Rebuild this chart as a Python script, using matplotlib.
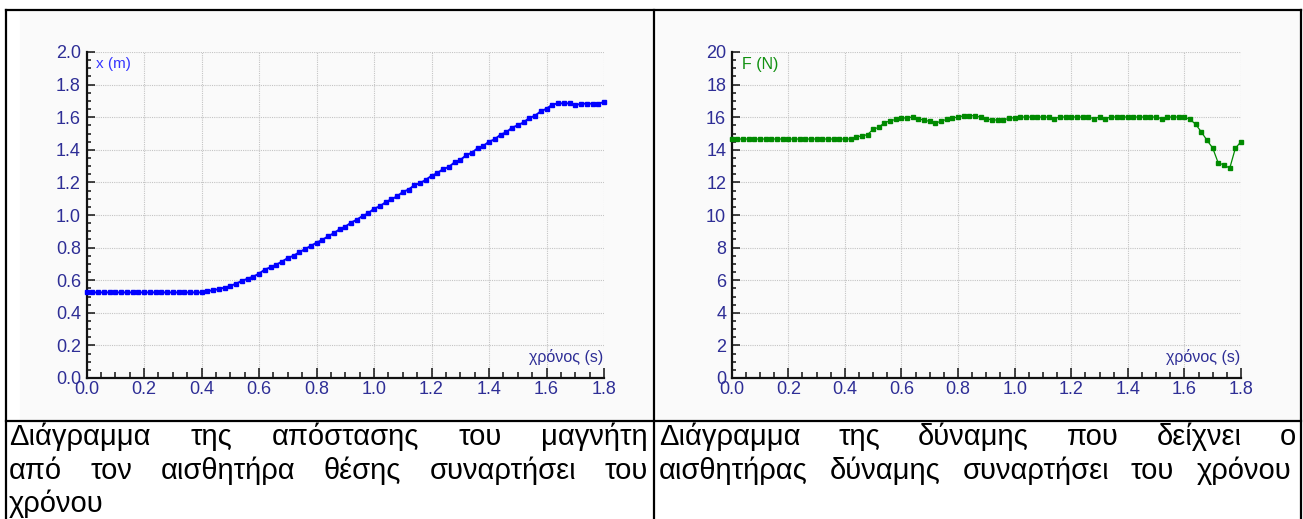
import numpy as np
import matplotlib.pyplot as plt
from matplotlib.lines import Line2D
from matplotlib.patches import Rectangle
from matplotlib.ticker import MultipleLocator

# DATA
t = [0.00, 0.02, 0.04, 0.06, 0.08, 0.10, 0.12, 0.14, 0.16, 0.18,
     0.20, 0.22, 0.24, 0.26, 0.28, 0.30, 0.32, 0.34, 0.36, 0.38,
     0.40, 0.42, 0.44, 0.46, 0.48, 0.50, 0.52, 0.54, 0.56, 0.58,
     0.60, 0.62, 0.64, 0.66, 0.68, 0.70, 0.72, 0.74, 0.76, 0.78,
     0.80, 0.82, 0.84, 0.86, 0.88, 0.90, 0.92, 0.94, 0.96, 0.98,
     1.00, 1.02, 1.04, 1.06, 1.08, 1.10, 1.12, 1.14, 1.16, 1.18,
     1.20, 1.22, 1.24, 1.26, 1.28, 1.30, 1.32, 1.34, 1.36, 1.38,
     1.40, 1.42, 1.44, 1.46, 1.48, 1.50, 1.52, 1.54, 1.56, 1.58,
     1.60, 1.62, 1.64, 1.66, 1.68, 1.70, 1.72, 1.74, 1.76, 1.78,
     1.80]

x_pos = [0.525, 0.525, 0.525, 0.525, 0.525, 0.525, 0.525, 0.525, 0.525, 0.525,
         0.525, 0.525, 0.525, 0.525, 0.525, 0.525, 0.525, 0.525, 0.525, 0.525,
         0.525, 0.533, 0.538, 0.546, 0.554, 0.564, 0.579, 0.595, 0.609, 0.622,
         0.640, 0.665, 0.679, 0.695, 0.714, 0.736, 0.750, 0.771, 0.791, 0.810,
         0.830, 0.847, 0.869, 0.888, 0.912, 0.928, 0.953, 0.971, 0.994, 1.010,
         1.039, 1.053, 1.078, 1.096, 1.114, 1.141, 1.156, 1.182, 1.196, 1.215,
         1.241, 1.256, 1.282, 1.294, 1.323, 1.337, 1.366, 1.382, 1.409, 1.423,
         1.450, 1.464, 1.493, 1.507, 1.536, 1.550, 1.568, 1.595, 1.609, 1.636,
         1.652, 1.677, 1.685, 1.685, 1.685, 1.673, 1.683, 1.683, 1.683, 1.683,
         1.693]

force = [14.66, 14.66, 14.66, 14.66, 14.66, 14.66, 14.66, 14.66, 14.66, 14.66,
         14.66, 14.66, 14.66, 14.66, 14.66, 14.66, 14.66, 14.66, 14.66, 14.66,
         14.66, 14.66, 14.79, 14.85, 14.93, 15.26, 15.38, 15.67, 15.77, 15.87,
         15.93, 15.97, 16.01, 15.91, 15.81, 15.75, 15.64, 15.75, 15.87, 15.95,
         16.01, 16.09, 16.09, 16.09, 15.99, 15.91, 15.83, 15.83, 15.83, 15.93,
         15.97, 16.01, 16.01, 16.01, 16.01, 16.01, 16.01, 15.91, 16.01, 16.01,
         16.01, 16.01, 16.01, 16.01, 15.91, 16.01, 15.91, 16.01, 16.01, 16.01,
         16.01, 16.01, 16.01, 16.01, 16.01, 16.01, 15.91, 16.01, 16.01, 16.01,
         16.01, 15.87, 15.56, 15.09, 14.58, 14.11, 13.17, 13.09, 12.86, 14.09,
         14.50]

x_ticks = [0.0, 0.2, 0.4, 0.6, 0.8, 1.0, 1.2, 1.4, 1.6, 1.8]
x_tick_labels = ['0.0', '0.2', '0.4', '0.6', '0.8', '1.0', '1.2', '1.4', '1.6', '1.8']
y1_ticks = [0.0, 0.2, 0.4, 0.6, 0.8, 1.0, 1.2, 1.4, 1.6, 1.8, 2.0]
y1_tick_labels = ['0.0', '0.2', '0.4', '0.6', '0.8', '1.0', '1.2', '1.4', '1.6', '1.8', '2.0']
y2_ticks = [0, 2, 4, 6, 8, 10, 12, 14, 16, 18, 20]
y2_tick_labels = ['0', '2', '4', '6', '8', '10', '12', '14', '16', '18', '20']

caption_left = ["Διάγραμμα της απόστασης του μαγνήτη",
                "από τον αισθητήρα θέσης συναρτήσει του",
                "χρόνου"]
caption_right = ["Διάγραμμα της δύναμης που δείχνει ο",
                 "αισθητήρας δύναμης συναρτήσει του χρόνου"]

# FIGURE
W, H = 1303, 519
fig = plt.figure(figsize=(W / 100, H / 100), dpi=100)
fig.patch.set_facecolor('white')

NARROW = ['Liberation Sans Narrow', 'Liberation Sans', 'DejaVu Sans']
NAVY = '#2e2e96'
BG = '#fafafa'


def fx(px):
    return px / W


def fy(py):
    return 1 - py / H


# light grey background of the two screenshots
fig.add_artist(Rectangle((fx(20), fy(419)), fx(632), (419 - 12) / H,
                         transform=fig.transFigure, color=BG, zorder=-2))
fig.add_artist(Rectangle((fx(657), fy(419)), fx(642), (419 - 12) / H,
                         transform=fig.transFigure, color=BG, zorder=-2))


def style_axes(ax, ymax, yminor, yticks, ylabels):
    ax.set_facecolor(BG)
    ax.set_xlim(0, 1.8)
    ax.set_ylim(0, ymax)
    ax.set_xticks(x_ticks)
    ax.set_xticklabels(x_tick_labels)
    ax.set_yticks(yticks)
    ax.set_yticklabels(ylabels)
    ax.xaxis.set_minor_locator(MultipleLocator(0.05))
    ax.yaxis.set_minor_locator(MultipleLocator(yminor))
    for s in ['top', 'right']:
        ax.spines[s].set_visible(False)
    for s in ['left', 'bottom']:
        ax.spines[s].set_linewidth(1.6)
        ax.spines[s].set_color('#111111')
    ax.tick_params(axis='x', which='major', direction='in', length=7, width=1.1,
                   color='#111111', pad=2)
    ax.tick_params(axis='x', which='minor', direction='in', length=4.3, width=1.1,
                   color='#111111')
    ax.tick_params(axis='y', which='major', direction='in', length=5.8, width=1.1,
                   color='#111111', pad=4)
    ax.tick_params(axis='y', which='minor', direction='in', length=2.9, width=1.1,
                   color='#111111')
    for lab in ax.get_xticklabels() + ax.get_yticklabels():
        lab.set_family(NARROW)
        lab.set_fontsize(13)
        lab.set_color(NAVY)
    ax.grid(True, which='major', color='#c4c4c4', linestyle=(0, (1, 1)), linewidth=0.8)
    ax.set_axisbelow(True)
    ax.text(0.998, 0.04, 'χρόνος (s)', transform=ax.transAxes, ha='right', va='bottom',
            family=NARROW, fontsize=11.5, color=NAVY)


ax1 = fig.add_axes([fx(86.5), fy(378), (604 - 86.5) / W, (378 - 52) / H])
style_axes(ax1, 2.0, 0.05, y1_ticks, y1_tick_labels)
ax1.plot(t, x_pos, color='#0000ff', linewidth=1.4, marker='s', markersize=2.8,
         clip_on=False, zorder=3)
ax1.text(0.018, 0.985, 'x (m)', transform=ax1.transAxes, ha='left', va='top',
         family=NARROW, fontsize=11, color='#3535ff')

ax2 = fig.add_axes([fx(731.7), fy(378), (1241 - 731.7) / W, (378 - 52) / H])
style_axes(ax2, 20, 0.5, y2_ticks, y2_tick_labels)
ax2.plot(t, force, color='#008a00', linewidth=0.9, marker='s', markersize=2.5,
         clip_on=False, zorder=3)
ax2.text(0.02, 0.985, 'F (N)', transform=ax2.transAxes, ha='left', va='top',
         family=NARROW, fontsize=11.5, color='#109010')

# TABLE BORDERS
for (x0, y0, x1, y1) in [(5.5, 10, 1301, 10), (5.5, 10, 5.5, 519), (654, 10, 654, 519),
                         (1301, 10, 1301, 519), (5.5, 420.5, 1301, 420.5)]:
    fig.add_artist(Line2D([fx(x0), fx(x1)], [fy(y0), fy(y1)], transform=fig.transFigure,
                          color='black', linewidth=1.6, solid_capstyle='projecting'))

# CAPTIONS (justified like the word document)
renderer = fig.canvas.get_renderer()


def caption_line(text, x0, x1, base, justify=True):
    words = text.split(' ')
    objs = [fig.text(fx(x0), fy(base), w, family='Liberation Sans', fontsize=21,
                     color='black', va='baseline', ha='left') for w in words]
    if not justify or len(objs) == 1:
        return
    widths = [o.get_window_extent(renderer).width for o in objs]
    gap = (x1 - x0 - sum(widths)) / (len(objs) - 1)
    xp = x0
    for o, w in zip(objs, widths):
        o.set_x(fx(xp))
        xp += w + gap


caption_line(caption_left[0], 9, 648, 445)
caption_line(caption_left[1], 9, 648, 479)
caption_line(caption_left[2], 9, 648, 512, justify=False)
caption_line(caption_right[0], 659, 1296, 445)
caption_line(caption_right[1], 659, 1291, 479)

fig.savefig('out.png', dpi=100, facecolor='white')
